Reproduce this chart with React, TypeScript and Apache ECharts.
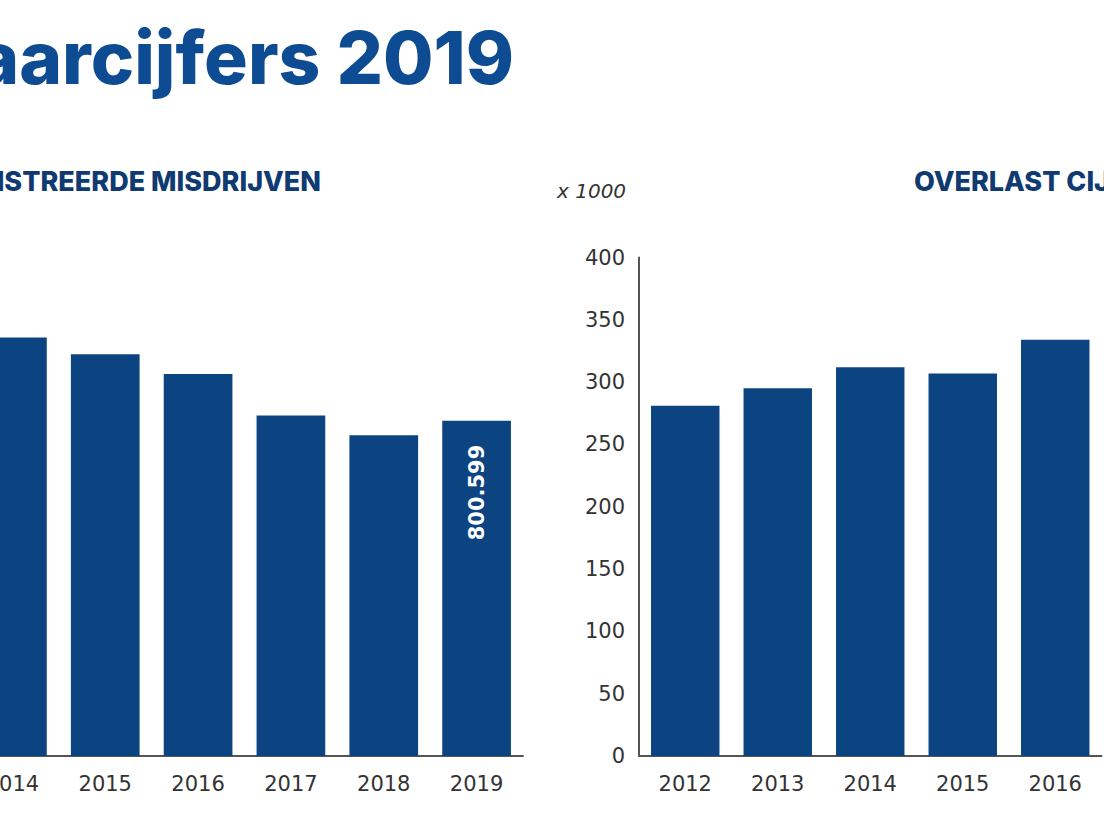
import React, { useEffect, useRef } from "react";
import * as echarts from "echarts";

// Data
const LEFT_YEARS = ["2014", "2015", "2016", "2017", "2018", "2019"];
const LEFT_VALUES = [999000, 959000, 912000, 813000, 766000, 800599];
const LEFT_LABELLED_YEAR = "2019";

const RIGHT_YEARS = ["2012", "2013", "2014", "2015", "2016"];
const RIGHT_VALUES = [281, 295, 312, 307, 334];
const RIGHT_Y_MIN = 0;
const RIGHT_Y_MAX = 400;
const RIGHT_Y_STEP = 50;

const TITLE = "Jaarcijfers 2019";
const LEFT_SUBTITLE = "GEREGISTREERDE MISDRIJVEN";
const RIGHT_SUBTITLE = "OVERLAST CIJFERS";
const RIGHT_UNIT = "x 1000";

const BAR = "#0C4482";
const TITLE_BLUE = "#0D4B92";
const NAVY = "#103A72";
const AXIS = "#555555";
const LABEL = "#333333";
const AXIS_FONT = "DejaVu Sans";
const HEAD_FONT = "Inter";

// the chart canvas starts this far left of the visible page (the reference is a crop)
const SHIFT = 34;

const fmtNL = (v: number) =>
  String(Math.round(v)).replace(/\B(?=(\d{3})+(?!\d))/g, ".");

export default function App() {
  const ref = useRef<HTMLDivElement>(null);

  useEffect(() => {
    if (!ref.current) return;
    const chart = echarts.init(ref.current, null, { renderer: "svg" });

    const option: any = {
      animation: false,
      backgroundColor: "#ffffff",
      grid: [
        { left: 0, top: 253.4, width: 557, height: 502.6 },
        { left: 639 + SHIFT, top: 257.5, width: 462.5, height: 498.5 },
      ],
      xAxis: [
        {
          type: "category",
          gridIndex: 0,
          data: LEFT_YEARS,
          axisLine: { show: true, lineStyle: { color: AXIS, width: 2 } },
          axisTick: { show: false },
          axisLabel: {
            color: LABEL,
            fontFamily: AXIS_FONT,
            fontSize: 21,
            margin: 17,
          },
        },
        {
          type: "category",
          gridIndex: 1,
          data: RIGHT_YEARS,
          axisLine: { show: true, lineStyle: { color: AXIS, width: 2 } },
          axisTick: { show: false },
          axisLabel: {
            color: LABEL,
            fontFamily: AXIS_FONT,
            fontSize: 21,
            margin: 17,
          },
        },
      ],
      yAxis: [
        {
          type: "value",
          gridIndex: 0,
          min: 0,
          max: 1200000,
          show: false,
        },
        {
          type: "value",
          gridIndex: 1,
          min: RIGHT_Y_MIN,
          max: RIGHT_Y_MAX,
          interval: RIGHT_Y_STEP,
          axisLine: { show: true, lineStyle: { color: AXIS, width: 2 } },
          axisTick: { show: false },
          splitLine: { show: false },
          axisLabel: {
            color: LABEL,
            fontFamily: AXIS_FONT,
            fontSize: 21,
            margin: 14,
            padding: [7, 0, 0, 0],
          },
        },
      ],
      series: [
        {
          type: "bar",
          xAxisIndex: 0,
          yAxisIndex: 0,
          barCategoryGap: "26%",
          itemStyle: { color: BAR },
          data: LEFT_VALUES.map((v, i) => ({
            value: v,
            label: {
              show: LEFT_YEARS[i] === LEFT_LABELLED_YEAR,
              position: "insideTop",
              distance: 24,
              rotate: 90,
              align: "right",
              verticalAlign: "middle",
              color: "#ffffff",
              fontFamily: AXIS_FONT,
              fontWeight: "bold",
              fontSize: 21,
              formatter: (p: any) => fmtNL(p.value),
            },
          })),
        },
        {
          type: "bar",
          xAxisIndex: 1,
          yAxisIndex: 1,
          barCategoryGap: "26%",
          itemStyle: { color: BAR },
          data: RIGHT_VALUES,
        },
      ],
      graphic: [
        {
          type: "text",
          x: 514 + SHIFT,
          y: 57,
          style: {
            text: TITLE,
            fill: TITLE_BLUE,
            font: `800 73px ${HEAD_FONT}`,
            textAlign: "right",
            textVerticalAlign: "middle",
          },
        },
        {
          type: "text",
          x: 321 + SHIFT,
          y: 181,
          style: {
            text: LEFT_SUBTITLE,
            fill: NAVY,
            font: `800 27px ${HEAD_FONT}`,
            textAlign: "right",
            textVerticalAlign: "middle",
          },
        },
        {
          type: "text",
          x: 914 + SHIFT,
          y: 181,
          style: {
            text: RIGHT_SUBTITLE,
            fill: NAVY,
            font: `800 27px ${HEAD_FONT}`,
            textAlign: "left",
            textVerticalAlign: "middle",
          },
        },
        {
          type: "text",
          x: 557 + SHIFT,
          y: 191,
          style: {
            text: RIGHT_UNIT,
            fill: LABEL,
            font: `italic 20px ${AXIS_FONT}`,
            textAlign: "left",
            textVerticalAlign: "middle",
          },
        },
      ],
    };

    chart.setOption(option);
    return () => chart.dispose();
  }, []);

  return (
    <div
      ref={ref}
      style={{
        position: "fixed",
        left: -SHIFT,
        top: 0,
        width: 1104 + SHIFT,
        height: 828,
        background: "#ffffff",
      }}
    />
  );
}
